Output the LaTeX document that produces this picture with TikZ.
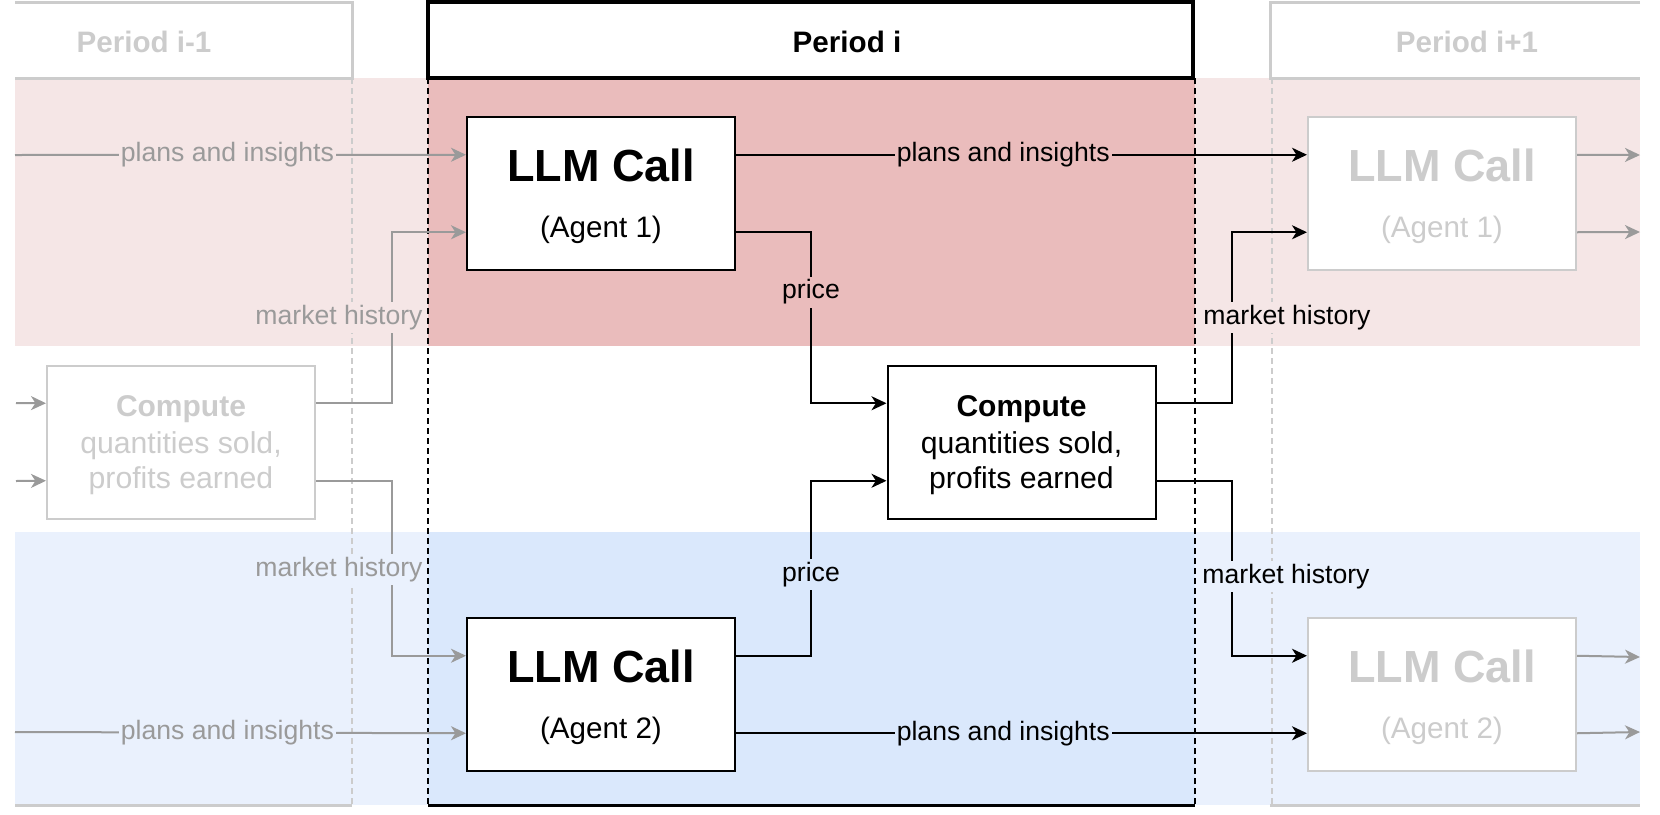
\documentclass[tikz,border=0pt]{standalone}
\usepackage{fontspec}
\setmainfont{Liberation Sans}
\usetikzlibrary{arrows.meta,calc}
\definecolor{pinkL}{HTML}{F5E6E6}
\definecolor{pinkD}{HTML}{EABCBC}
\definecolor{blueL}{HTML}{EAF1FD}
\definecolor{blueD}{HTML}{DAE8FC}
\definecolor{ghostline}{HTML}{9A9A9A}
\definecolor{ghostbox}{HTML}{CCCCCC}
\begin{document}
\begin{tikzpicture}[x=0.5pt,y=-0.5pt,
  box/.style={draw=black, fill=white, line width=1pt, minimum width=134pt, minimum height=76.5pt, inner sep=0pt},
  gbox/.style={box, draw=ghostbox},
  conn/.style={line width=1pt, -{Stealth[length=7.5pt,width=7pt,inset=2.2pt]}},
  gconn/.style={conn, draw=ghostline},
  lab/.style={font=\fontsize{13.3}{16}\selectfont, inner xsep=1pt, inner ysep=1.5pt, text=black},
  glab/.style={lab, text=ghostline},
  bigtxt/.style={font=\fontsize{22.5}{27}\selectfont\bfseries, anchor=base, inner sep=0pt},
  agtxt/.style={font=\fontsize{14.8}{18}\selectfont, anchor=base, inner sep=0pt},
  cbold/.style={font=\fontsize{15}{18}\selectfont\bfseries, anchor=base, inner sep=0pt},
  ctxt/.style={font=\fontsize{15.1}{18}\selectfont, anchor=base, inner sep=0pt},
  hdrtxt/.style={font=\fontsize{14.8}{18}\selectfont\bfseries, anchor=base, inner sep=0pt},
  ghosthdr/.style={draw=ghostbox, line width=1.5pt},
  bdash/.style={draw=black, line width=1pt, dash pattern=on 3pt off 2pt},
  gdash/.style={draw=ghostbox, line width=1pt, dash pattern=on 3pt off 2pt}
]
\useasboundingbox (0,0) rectangle (1660,814);

% bands
\fill[pinkL] (15,78) rectangle (1640,346);
\fill[pinkD] (428,78) rectangle (1195,346);
\fill[blueL] (15,532) rectangle (1640,805);
\fill[blueD] (428,532) rectangle (1195,805);

% column separators
\draw[gdash] (352,78) -- (352,805);
\draw[gdash] (1272,78) -- (1272,805);
\draw[bdash] (428,78) -- (428,805);
\draw[bdash] (1195,78) -- (1195,805);

% headers
\draw[ghosthdr] (15,2) -- (352,2) -- (352,78) -- (15,78);
\node[hdrtxt, text=ghostbox] (hprev) at (144,52) {Period i-1};
\draw[ghosthdr] (15,805) -- (352,805);
\node[draw=black, line width=2pt, fill=white, minimum width=382.5pt, minimum height=38pt, inner sep=0pt] (hcur) at (810.5,40) {};
\node[hdrtxt] (hcurt) at (847,52) {Period i};
\draw[line width=1.5pt] (428,805) -- (1195,805);
\draw[ghosthdr] (1640,2) -- (1270,2) -- (1270,78) -- (1640,78);
\node[hdrtxt, text=ghostbox] (hnext) at (1467,52) {Period i+1};
\draw[ghosthdr] (1270,805) -- (1640,805);

% boxes
\node[box] (a1) at (601,193.5) {};
\node[box] (a2) at (601,694.5) {};
\node[box] (cmp) at (1021.5,442) {};
\node[gbox] (cmq) at (181,442) {};
\node[gbox] (g1) at (1442,193.5) {};
\node[gbox] (g2) at (1442,694.5) {};

\node[bigtxt] (a1t) at (601,181) {LLM Call};
\node[agtxt] (a1s) at (601,237) {(Agent 1)};
\node[bigtxt] (a2t) at (601,682) {LLM Call};
\node[agtxt] (a2s) at (601,738) {(Agent 2)};
\node[bigtxt, text=ghostbox] (g1t) at (1442,181) {LLM Call};
\node[agtxt, text=ghostbox] (g1s) at (1442,237) {(Agent 1)};
\node[bigtxt, text=ghostbox] (g2t) at (1442,682) {LLM Call};
\node[agtxt, text=ghostbox] (g2s) at (1442,738) {(Agent 2)};
\node[cbold] (ct1) at (1021.5,416) {Compute};
\node[ctxt] (ct2) at (1021.5,453) {quantities sold,};
\node[ctxt] (ct3) at (1021.5,488) {profits earned};
\node[cbold, text=ghostbox] (cq1) at (181,416) {Compute};
\node[ctxt, text=ghostbox] (cq2) at (181,453) {quantities sold,};
\node[ctxt, text=ghostbox] (cq3) at (181,488) {profits earned};

% ports
\foreach \n in {a1,a2,cmp,cmq,g1,g2}{
  \coordinate (\n-w1) at ($(\n.north west)!0.25!(\n.south west)$);
  \coordinate (\n-w2) at ($(\n.north west)!0.75!(\n.south west)$);
  \coordinate (\n-e1) at ($(\n.north east)!0.25!(\n.south east)$);
  \coordinate (\n-e2) at ($(\n.north east)!0.75!(\n.south east)$);
}
\coordinate (colL) at (392,0);
\coordinate (colP) at (811,0);
\coordinate (colR) at (1232,0);
\coordinate (inA1) at (15,155);
\coordinate (inA2) at (15,732);
\coordinate (inC1) at (16,403);
\coordinate (inC2) at (16,481);
\coordinate (out1) at (1640,155);
\coordinate (out2) at (1640,232);
\coordinate (out3) at (1640,657);
\coordinate (out4) at (1640,732);

% ghost connectors (left)
\draw[gconn] (inA1) -- node[glab, fill=pinkL, pos=0.471] {plans and insights} (a1-w1);
\draw[gconn] (inA2) -- node[glab, fill=blueL, pos=0.471] {plans and insights} (a2-w2);
\draw[gconn] (inC1) -- (cmq-w1);
\draw[gconn] (inC2) -- (cmq-w2);
\draw[gconn] (cmq-e1) -- (cmq-e1 -| colL) -- node[glab, fill=pinkL, midway, xshift=-26.5pt] {market history} (a1-w2 -| colL) -- (a1-w2);
\draw[gconn] (cmq-e2) -- (cmq-e2 -| colL) -- node[glab, fill=blueL, pos=0.506, xshift=-26.5pt] {market history} (a2-w1 -| colL) -- (a2-w1);

% main connectors
\draw[conn] (a1-e1) -- node[lab, fill=pinkD, pos=0.468] {plans and insights} (g1-w1);
\draw[conn] (a2-e2) -- node[lab, fill=blueD, pos=0.468] {plans and insights} (g2-w2);
\draw[conn] (a1-e2) -- (a1-e2 -| colP) -- node[lab, fill=pinkD, pos=0.35] {price} (cmp-w1 -| colP) -- (cmp-w1);
\draw[conn] (a2-e1) -- (a2-e1 -| colP) -- node[lab, fill=blueD, pos=0.466] {price} (cmp-w2 -| colP) -- (cmp-w2);
\draw[conn] (cmp-e1) -- (cmp-e1 -| colR) -- node[lab, fill=pinkL, midway, xshift=27.5pt] {market history} (g1-w2 -| colR) -- (g1-w2);
\draw[conn] (cmp-e2) -- (cmp-e2 -| colR) -- node[lab, fill=blueL, pos=0.545, xshift=27pt] {market history} (g2-w1 -| colR) -- (g2-w1);

% ghost connectors (right)
\draw[gconn] (g1-e1) -- (out1);
\draw[gconn] (g1-e2) -- (out2);
\draw[gconn] (g2-e1) -- (out3);
\draw[gconn] (g2-e2) -- (out4);
\end{tikzpicture}
\end{document}
